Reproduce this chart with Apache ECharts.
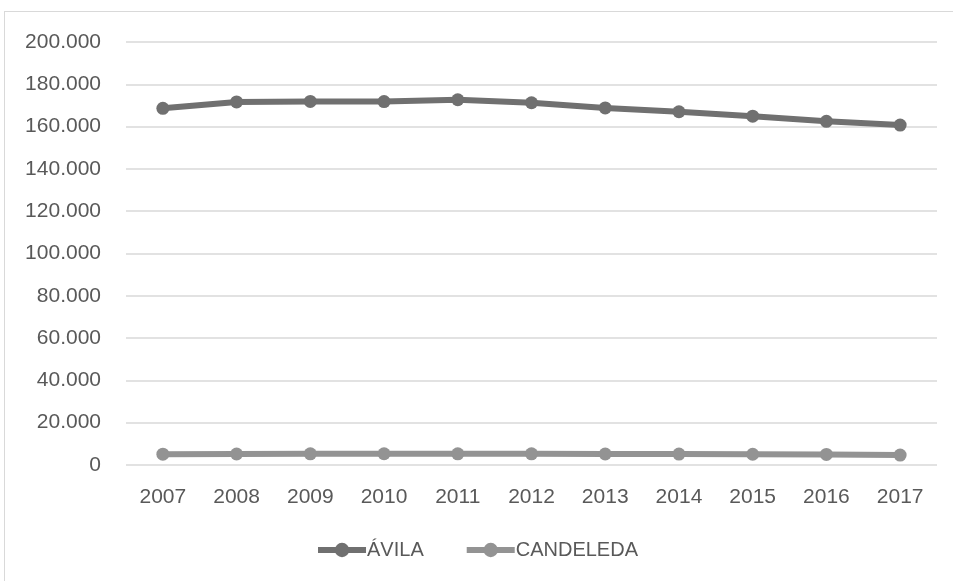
<!DOCTYPE html>
<html><head><meta charset="utf-8">
<script src="https://cdn.jsdelivr.net/npm/echarts@6/dist/echarts.min.js"></script>
<style>html,body{margin:0;padding:0;background:#fff;}#c{width:953px;height:581px;}
#frame{position:absolute;left:4px;top:11px;width:960px;height:600px;border:1.5px solid #d9d9d9;box-sizing:border-box;pointer-events:none;}</style>
</head><body><div id="c"></div><div id="frame"></div>
<script>
const years = ['2007','2008','2009','2010','2011','2012','2013','2014','2015','2016','2017'];
const avila = [168638,171680,171896,171815,172704,171265,168825,167015,164925,162514,160700];
const candeleda = [5130,5207,5290,5325,5296,5265,5210,5150,5094,5015,4700];
const yTicks = {min:0, max:200000, interval:20000};
const fontFam = '"Liberation Sans Narrow","Liberation Sans",sans-serif';
const chart = echarts.init(document.getElementById('c'), null, {renderer:'canvas'});
chart.setOption({
  animation:false,
  backgroundColor:'#fff',
  textStyle:{fontFamily:fontFam},
  grid:{left:126,right:16,top:42,bottom:116},
  legend:{bottom:16,left:'center',itemWidth:48,itemHeight:18,itemGap:40,
    textStyle:{color:'#595959',fontSize:20,fontFamily:fontFam,padding:[0,0,0,-4]},
    lineStyle:{width:6},
    data:['ÁVILA','CANDELEDA']},
  xAxis:{type:'category',data:years,boundaryGap:true,
    axisLine:{show:false},axisTick:{show:false},
    axisLabel:{color:'#595959',fontSize:21,margin:22,fontFamily:fontFam}},
  yAxis:{type:'value',min:yTicks.min,max:yTicks.max,interval:yTicks.interval,
    axisLine:{show:false},axisTick:{show:false},
    splitLine:{lineStyle:{color:'#d9d9d9',width:1.5}},
    axisLabel:{color:'#595959',fontSize:21,margin:25,fontFamily:fontFam,
      formatter:v=>v===0?'0':(v/1000).toFixed(3)}},
  series:[
    {name:'ÁVILA',type:'line',data:avila,symbol:'circle',symbolSize:13,
      lineStyle:{color:'#707070',width:6},itemStyle:{color:'#707070'}},
    {name:'CANDELEDA',type:'line',data:candeleda,symbol:'circle',symbolSize:13,
      lineStyle:{color:'#939393',width:6},itemStyle:{color:'#939393'}}
  ]
});
</script></body></html>
